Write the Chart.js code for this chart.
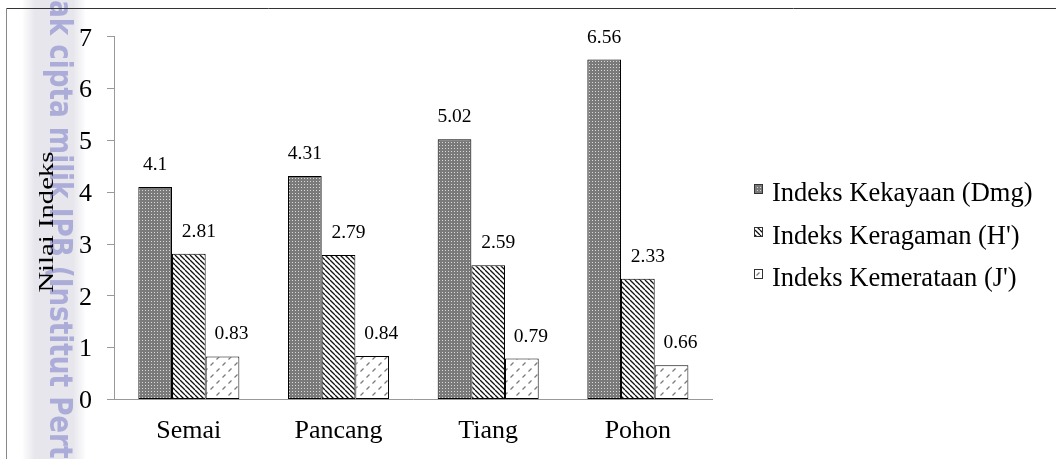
<!DOCTYPE html>
<html>
<head>
<meta charset="utf-8">
<script src="https://cdn.jsdelivr.net/npm/chart.js@4.4.0/dist/chart.umd.min.js"></script>
<style>
  html, body { margin: 0; padding: 0; background: #fff; }
  canvas { display: block; }
</style>
</head>
<body>
<canvas id="c" width="1056" height="459"></canvas>
<script>
// Vegetation diversity indices per growth stage
const categories = ['Semai', 'Pancang', 'Tiang', 'Pohon'];
const seriesNames = ['Indeks Kekayaan (Dmg)', "Indeks Keragaman (H')", "Indeks Kemerataan (J')"];
const kekayaan = [4.1, 4.31, 5.02, 6.56];
const keragaman = [2.81, 2.79, 2.59, 2.33];
const kemerataan = [0.83, 0.84, 0.79, 0.66];
const yTicks = [0, 1, 2, 3, 4, 5, 6, 7];
const axisTitle = 'Nilai Indeks';
const watermark = 'Hak cipta milik IPB (Institut Pertanian Bogor)';

const SERIF = '"Liberation Serif", "Times New Roman", serif';

// ---- fill patterns -------------------------------------------------------
function makePattern(size, draw) {
  const c = document.createElement('canvas');
  c.width = c.height = size;
  const g = c.getContext('2d');
  draw(g, size);
  return g.createPattern(c, 'repeat');
}

// fine grey dot texture
const dotPattern = makePattern(3, (g, s) => {
  g.fillStyle = '#7a7a7a';
  g.fillRect(0, 0, s, s);
  g.fillStyle = '#d8d8d8';
  g.fillRect(1, 1, 1, 1);
});

// dense "\" hatching
const hatchPattern = makePattern(5, (g, s) => {
  g.fillStyle = '#ffffff';
  g.fillRect(0, 0, s, s);
  g.strokeStyle = '#111';
  g.lineWidth = 1.3;
  g.beginPath();
  for (let k = -1; k <= 1; k++) {
    g.moveTo(k * s, 0);
    g.lineTo(k * s + s, s);
  }
  g.stroke();
});

// sparse dashed "/" strokes on white
const dashPattern = makePattern(12, (g, s) => {
  g.fillStyle = '#ffffff';
  g.fillRect(0, 0, s, s);
  g.strokeStyle = '#7a7a7a';
  g.lineWidth = 1.3;
  g.beginPath();
  g.moveTo(0.5, 11.5); g.lineTo(3.5, 8.5);
  g.moveTo(6.5, 5.5); g.lineTo(9.5, 2.5);
  g.stroke();
});

const fills = [dotPattern, hatchPattern, dashPattern];
const seriesValues = [kekayaan, keragaman, kemerataan];
const labelShift = [0, 10, 9];

// ---- page decoration: frame, side watermark, labels, legend -------------
const decorPlugin = {
  id: 'decor',
  beforeDraw(chart) {
    const ctx = chart.ctx;
    ctx.save();
    // soft grey side strip
    const grad = ctx.createLinearGradient(22, 0, 86, 0);
    grad.addColorStop(0, 'rgba(230,230,236,0)');
    grad.addColorStop(0.2, 'rgba(230,230,236,1)');
    grad.addColorStop(0.8, 'rgba(230,230,236,1)');
    grad.addColorStop(1, 'rgba(230,230,236,0)');
    ctx.fillStyle = grad;
    ctx.fillRect(22, 0, 64, chart.height);

    // vertical watermark text, reading top to bottom
    ctx.font = 'bold 32px "DejaVu Sans", sans-serif';
    const part = 'Hak cipta milik IPB (Institut';
    const w = ctx.measureText(part).width;
    const sx = 409 / w;
    ctx.translate(50, -22);
    ctx.rotate(Math.PI / 2);
    ctx.scale(sx, 1);
    ctx.fillStyle = 'rgba(136,136,204,0.62)';
    ctx.textBaseline = 'alphabetic';
    ctx.textAlign = 'left';
    ctx.fillText(watermark, 0, 0);
    ctx.restore();

    // outer frame
    ctx.save();
    ctx.lineWidth = 1;
    ctx.strokeStyle = '#333';
    ctx.beginPath();
    ctx.moveTo(6, 8.5);
    ctx.lineTo(chart.width, 8.5);
    ctx.stroke();
    ctx.strokeStyle = '#888';
    ctx.beginPath();
    ctx.moveTo(6.5, 8);
    ctx.lineTo(6.5, chart.height);
    ctx.stroke();
    ctx.restore();
  },
  afterDatasetsDraw(chart) {
    // value labels above each bar
    const ctx = chart.ctx;
    ctx.save();
    ctx.font = '19.5px ' + SERIF;
    ctx.fillStyle = '#000';
    ctx.textAlign = 'center';
    ctx.textBaseline = 'alphabetic';
    chart.data.datasets.forEach((ds, di) => {
      const meta = chart.getDatasetMeta(di);
      meta.data.forEach((bar, i) => {
        ctx.fillText(String(ds.data[i]), bar.x + labelShift[di], bar.y - 17);
      });
    });
    ctx.restore();
  },
  afterDraw(chart) {
    const ctx = chart.ctx;
    const area = chart.chartArea;
    // y axis title
    ctx.save();
    ctx.font = '20px ' + SERIF;
    const tw = ctx.measureText(axisTitle).width;
    ctx.translate(53, (area.top + area.bottom) / 2 + 4);
    ctx.rotate(-Math.PI / 2);
    ctx.scale(141 / tw, 1);
    ctx.fillStyle = '#000';
    ctx.textAlign = 'center';
    ctx.textBaseline = 'alphabetic';
    ctx.fillText(axisTitle, 0, 0);
    ctx.restore();

    // legend
    ctx.save();
    const rows = [201, 244, 286];
    ctx.font = '26.5px ' + SERIF;
    ctx.textAlign = 'left';
    ctx.textBaseline = 'alphabetic';
    chart.data.datasets.forEach((ds, di) => {
      const base = rows[di];
      const bx = 754.5, by = base - 16.5;
      ctx.fillStyle = ds.backgroundColor;
      ctx.fillRect(bx, by, 8, 9);
      ctx.strokeStyle = '#333';
      ctx.lineWidth = 1;
      ctx.strokeRect(bx, by, 8, 9);
      ctx.fillStyle = '#000';
      ctx.fillText(ds.label, 772, base);
    });
    ctx.restore();
  }
};

new Chart(document.getElementById('c'), {
  type: 'bar',
  data: {
    labels: categories,
    datasets: seriesNames.map((name, i) => ({
      label: name,
      data: seriesValues[i],
      backgroundColor: fills[i],
      borderColor: '#000',
      borderWidth: 1,
      borderSkipped: false,
      categoryPercentage: 0.675,
      barPercentage: 1
    }))
  },
  options: {
    responsive: false,
    animation: false,
    devicePixelRatio: 1,
    layout: { padding: { left: 64, right: 343.3, top: 36.7, bottom: 9.5 } },
    plugins: { legend: { display: false }, tooltip: { enabled: false } },
    scales: {
      x: {
        grid: { display: false, drawTicks: false },
        border: { display: true, color: '#999', width: 1 },
        ticks: { font: { family: SERIF, size: 26 }, color: '#000', padding: 16, maxRotation: 0 },
        afterFit(s) { s.height = 50; }
      },
      y: {
        min: 0,
        max: 7,
        afterBuildTicks(s) { s.ticks = yTicks.map(v => ({ value: v })); },
        ticks: { font: { family: SERIF, size: 26 }, color: '#000', padding: 15, labelOffset: 2 },
        grid: { drawOnChartArea: false, drawTicks: true, tickLength: 7, color: '#999' },
        border: { display: true, color: '#999', width: 1 },
        afterFit(s) { s.width = 50; }
      }
    }
  },
  plugins: [decorPlugin]
});
</script>
</body>
</html>
